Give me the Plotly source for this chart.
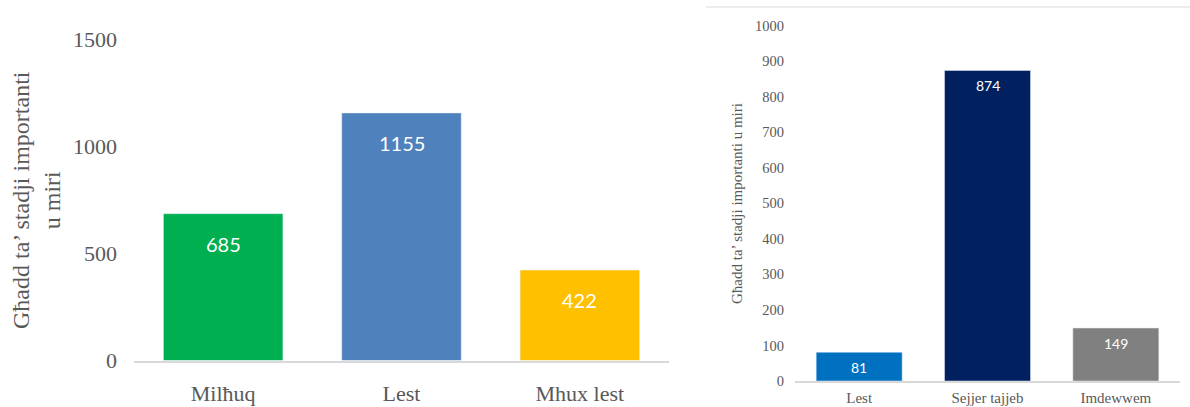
import plotly.graph_objects as go

# Left chart data
left_categories = ["Milħuq", "Lest", "Mhux lest"]
left_values = [685, 1155, 422]
left_colors = ["#00B050", "#4F81BD", "#FFC000"]
left_ticks = [0, 500, 1000, 1500]

# Right chart data
right_categories = ["Lest", "Sejjer tajjeb", "Imdewwem"]
right_values = [81, 874, 149]
right_colors = ["#0070C0", "#002060", "#808080"]
right_ticks = [0, 100, 200, 300, 400, 500, 600, 700, 800, 900, 1000]

y_title = "Għadd ta’ stadji importanti u miri"
y_title_left = "Għadd ta’ stadji importanti<br>u miri"

W, H = 1190, 407
serif = "Liberation Serif"
sans = "Lato"
grey = "#595959"

fig = go.Figure()

fig.add_trace(go.Bar(
    x=left_categories, y=left_values, marker_color=left_colors,
    xaxis="x", yaxis="y", showlegend=False, hoverinfo="x+y",
))
fig.add_trace(go.Bar(
    x=right_categories, y=right_values, marker_color=right_colors,
    xaxis="x2", yaxis="y2", showlegend=False, hoverinfo="x+y",
))

annotations = []
for c, v in zip(left_categories, left_values):
    annotations.append(dict(x=c, y=v, xref="x", yref="y", text=str(v),
                            showarrow=False, yshift=-30, yanchor="middle",
                            font=dict(family=sans, size=20, color="white")))
for c, v in zip(right_categories, right_values):
    annotations.append(dict(x=c, y=v, xref="x2", yref="y2", text=str(v),
                            showarrow=False, yshift=-15, yanchor="middle",
                            font=dict(family=sans, size=14, color="white")))

# rotated axis titles
annotations.append(dict(text=y_title_left, xref="paper", yref="paper",
                        x=37 / W, y=(H - 200) / H, textangle=-90, showarrow=False,
                        xanchor="center", yanchor="middle",
                        font=dict(family=serif, size=24, color=grey)))
annotations.append(dict(text=y_title, xref="paper", yref="paper",
                        x=737 / W, y=(H - 204) / H, textangle=-90, showarrow=False,
                        xanchor="center", yanchor="middle",
                        font=dict(family=serif, size=15, color=grey)))

fig.update_layout(
    width=W, height=H,
    margin=dict(l=0, r=0, t=0, b=0, autoexpand=False),
    paper_bgcolor="white", plot_bgcolor="white",
    bargap=0.33,
    xaxis=dict(domain=[134 / W, 669 / W], anchor="y", showline=True,
               linecolor="#D9D9D9", linewidth=2, ticks="", showgrid=False,
               tickfont=dict(family=serif, size=22, color=grey),
               ticklabelstandoff=12, fixedrange=True, automargin=False),
    yaxis=dict(domain=[(H - 360.5) / H, (H - 39) / H], range=[0, 1500],
               anchor="x", tickvals=left_ticks, showgrid=False, zeroline=False,
               showline=False, ticks="",
               tickfont=dict(family=serif, size=22, color=grey),
               ticklabelstandoff=16, fixedrange=True, automargin=False),
    xaxis2=dict(domain=[795 / W, 1180 / W], anchor="y2", showline=True,
                linecolor="#D9D9D9", linewidth=1.5, ticks="", showgrid=False,
                tickfont=dict(family=serif, size=15, color=grey),
                ticklabelstandoff=2, fixedrange=True, automargin=False),
    yaxis2=dict(domain=[(H - 381) / H, (H - 25.7) / H], range=[0, 1000],
                anchor="x2", tickvals=right_ticks, showgrid=False, zeroline=False,
                showline=False, ticks="",
                tickfont=dict(family=serif, size=14.5, color=grey),
                ticklabelstandoff=10, fixedrange=True, automargin=False),
    annotations=annotations,
    shapes=[dict(type="line", xref="paper", yref="paper",
                 x0=706 / W, x1=1, y0=(H - 7) / H, y1=(H - 7) / H,
                 line=dict(color="#D9D9D9", width=1))],
)

fig.write_html("out.html", config={"displayModeBar": False},
               post_script="document.body.style.margin='0';document.body.style.overflow='hidden';")
